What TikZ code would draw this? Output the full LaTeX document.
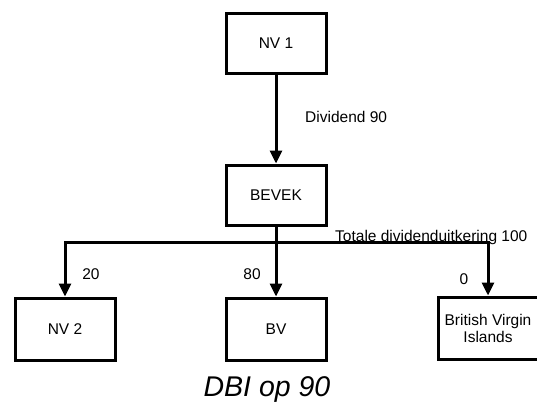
\documentclass[tikz,border=0pt]{standalone}
\usepackage{fontspec}
\setmainfont{Liberation Sans}
\usetikzlibrary{arrows.meta}
\begin{document}
\begin{tikzpicture}[x=1pt,y=-1pt,
  entity/.style={draw, line width=3pt, minimum width=100pt, minimum height=60pt,
    inner sep=2pt, align=center, font=\fontsize{15.5}{17}\selectfont},
  flow/.style={line width=3pt, -{Triangle[width=12pt,length=13pt]}},
  lbl/.style={font=\fontsize{15.5}{17}\selectfont, inner sep=0pt}]
\useasboundingbox (0,0) rectangle (537,402);
\clip (0,0) rectangle (537,402);
\node[entity] (nv1) at (276,43) {NV 1};
\node[entity] (bevek) at (276,195) {BEVEK};
\node[entity, minimum height=62pt] (nv2) at (65,329) {NV 2};
\node[entity, minimum height=62pt] (bv) at (276,329) {BV};
\node[entity, minimum height=62pt] (bvi) at (488,328) {British Virgin\\Islands};
\coordinate (split) at (276,242);
\draw[flow] (nv1) -- (bevek);
\draw[flow] (bevek) -- (bv);
\draw[flow] (split) -| (nv2.north);
\draw[flow] (split) -| (bvi.north);
\node[lbl, anchor=west] (divlbl) at (305,117) {Dividend 90};
\node[lbl, anchor=base west] (totlbl) at (335,241) {Totale dividenduitkering 100};
\node[lbl] (l20) at (91,274) {20};
\node[lbl] (l80) at (252,274) {80};
\node[lbl] (l0) at (464,279) {0};
\node[font=\fontsize{28.5}{30}\selectfont\itshape, inner sep=0pt] (dbi) at (267,389) {DBI op 90};
\end{tikzpicture}
\end{document}
